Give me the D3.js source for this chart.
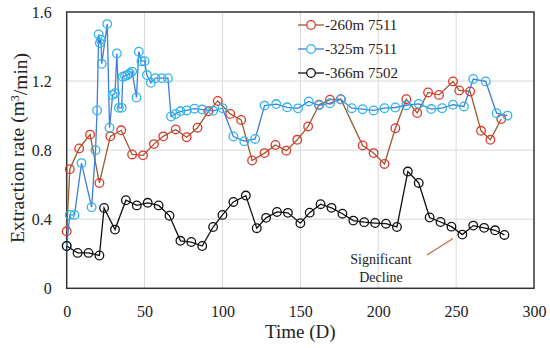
<!DOCTYPE html>
<html lang="en">

<head>
    <meta charset="UTF-8">
    <title>Extraction rate</title>
    <script src="https://d3js.org/d3.v7.min.js"></script>
    <style>
        * {
            margin: 0;
            padding: 0;
        }

        body {
            background-color: #ffffff;
            font-family: "Liberation Serif", "Times New Roman", serif;
        }
    </style>
</head>

<body>
    <div id="chart"></div>
    <script>
        // series: [day, extraction rate]
        const seriesNames = ["-260m 7511", "-325m 7511", "-366m 7502"];

        const red7511 = [
            [0, 0.33], [2, 0.69], [8, 0.81], [15, 0.89], [21, 0.61], [28, 0.88], [35, 0.915],
            [42, 0.775], [49, 0.77], [56, 0.835], [62, 0.88], [70, 0.92], [77, 0.875], [84, 0.93],
            [91, 1.025], [97, 1.085], [105, 1.01], [112, 0.975], [119, 0.74], [127, 0.783],
            [134, 0.83], [141, 0.797], [148, 0.86], [155, 0.937], [162, 1.063], [169, 1.092],
            [176, 1.095], [190, 0.827], [197, 0.783], [204, 0.72], [211, 0.927], [218, 1.095],
            [225, 1.015], [232, 1.134], [239, 1.12], [248, 1.198], [252, 1.146], [259, 1.14],
            [266, 0.912], [272, 0.86], [279, 0.98]
        ];

        const blue7511 = [
            [0, 0.245], [2, 0.425], [5, 0.425], [9.5, 0.725], [16, 0.47], [18.5, 0.8],
            [19.5, 1.03], [20.5, 1.47], [21.3, 1.42], [22, 1.44], [22.5, 1.3], [26, 1.53],
            [27.5, 0.93], [29.5, 1.12], [31, 1.13], [32.2, 1.36], [33.5, 1.045], [35.3, 1.045],
            [36, 1.225], [37.5, 1.23], [39, 1.235], [40.5, 1.245], [42, 1.255], [44.8, 1.105],
            [46.3, 1.37], [48, 1.315], [50, 1.315], [51.5, 1.235], [54, 1.19], [57, 1.217],
            [61, 1.217], [65, 1.217], [67, 0.995], [70, 1.01], [73, 1.025], [77, 1.03],
            [82, 1.04], [87, 1.035], [94, 1.028], [100, 1.043], [107, 0.879], [114, 0.852],
            [121, 0.865], [127, 1.058], [134.5, 1.067], [141.5, 1.048], [148.5, 1.042],
            [155.4, 1.082], [162, 1.06], [169, 1.072], [176, 1.094], [183, 1.043], [190, 1.037],
            [197, 1.03], [204, 1.043], [211, 1.047], [218, 1.06], [226, 1.068], [234, 1.038],
            [241, 1.043], [248, 1.063], [255, 1.053], [261, 1.212], [269, 1.198], [276, 1.014],
            [283, 1.0]
        ];

        const black7502 = [
            [0, 0.245], [7, 0.205], [14, 0.205], [21, 0.19], [24, 0.465], [31, 0.34], [38, 0.51],
            [45, 0.48], [52, 0.495], [59, 0.48], [66, 0.42], [73, 0.275], [80, 0.268], [87, 0.245],
            [94, 0.355], [100, 0.425], [107, 0.5], [115, 0.537], [122, 0.348], [128, 0.408],
            [135, 0.442], [142, 0.437], [150, 0.377], [156, 0.438], [163, 0.487], [170, 0.466],
            [177, 0.432], [184, 0.392], [191, 0.383], [198, 0.378], [205, 0.374], [212, 0.355],
            [219, 0.676], [226, 0.61], [233, 0.41], [240, 0.384], [247, 0.357], [254, 0.311],
            [261, 0.363], [268, 0.35], [275, 0.336], [281, 0.309]
        ];

        const xTicks = [0, 50, 100, 150, 200, 250, 300];
        const yTicks = [0, 0.4, 0.8, 1.2, 1.6];

        const W = 550, H = 348;
        const plotLeft = 66.7, plotRight = 534, plotTop = 12, plotBottom = 288.3;

        const svg = d3.select("#chart")
            .append("svg")
            .attr("width", W)
            .attr("height", H);

        const x = d3.scaleLinear().domain([0, 300]).range([plotLeft, plotRight]);
        const y = d3.scaleLinear().domain([0, 1.6]).range([plotBottom, plotTop]);

        // grid
        svg.append("g")
            .selectAll("line")
            .data(xTicks.slice(1, -1))
            .join("line")
            .attr("x1", d => x(d)).attr("x2", d => x(d))
            .attr("y1", plotTop).attr("y2", plotBottom)
            .attr("stroke", "#d9d9d9");

        svg.append("g")
            .selectAll("line")
            .data(yTicks.slice(1, -1))
            .join("line")
            .attr("x1", plotLeft).attr("x2", plotRight)
            .attr("y1", d => y(d)).attr("y2", d => y(d))
            .attr("stroke", "#d9d9d9");

        // axes (only labels, frame is drawn separately)
        const xAxis = svg.append("g")
            .attr("transform", `translate(0,${plotBottom})`)
            .call(d3.axisBottom(x).tickValues(xTicks).tickSize(0).tickPadding(17).tickFormat(d3.format("d")));

        const yAxis = svg.append("g")
            .attr("transform", `translate(${plotLeft},0)`)
            .call(d3.axisLeft(y).tickValues(yTicks).tickSize(0).tickPadding(15).tickFormat(d => d === 0 ? "0" : d3.format(".1f")(d)));

        [xAxis, yAxis].forEach(a => {
            a.select(".domain").remove();
            a.selectAll("text")
                .style("font-family", "'Liberation Serif', serif")
                .style("font-size", "16px")
                .style("fill", "#222");
        });

        // frame
        svg.append("rect")
            .attr("x", plotLeft).attr("y", plotTop)
            .attr("width", plotRight - plotLeft).attr("height", plotBottom - plotTop)
            .attr("fill", "none")
            .attr("stroke", "#333")
            .attr("stroke-width", 1.5);

        // series
        const series = [
            { name: seriesNames[0], data: red7511, line: "#9a5a2c", marker: "#e2352c" },
            { name: seriesNames[1], data: blue7511, line: "#3d7fd9", marker: "#2cb4ee" },
            { name: seriesNames[2], data: black7502, line: "#111", marker: "#111" }
        ];

        const line = d3.line().x(d => x(d[0])).y(d => y(d[1]));

        series.forEach(s => {
            const g = svg.append("g");
            g.append("path")
                .datum(s.data)
                .attr("d", line)
                .attr("fill", "none")
                .attr("stroke", s.line)
                .attr("stroke-width", 1.3);

            g.selectAll("circle")
                .data(s.data)
                .join("circle")
                .attr("cx", d => x(d[0]))
                .attr("cy", d => y(d[1]))
                .attr("r", 4.3)
                .attr("fill", "none")
                .attr("stroke", s.marker)
                .attr("stroke-width", 1.3);
        });

        // legend
        const legend = svg.append("g");
        series.forEach((s, i) => {
            const ly = 25 + i * 24;
            legend.append("line")
                .attr("x1", 298).attr("x2", 324)
                .attr("y1", ly).attr("y2", ly)
                .attr("stroke", s.line)
                .attr("stroke-width", 1.3);
            legend.append("circle")
                .attr("cx", 311).attr("cy", ly).attr("r", 4.3)
                .attr("fill", "#fff")
                .attr("stroke", s.marker)
                .attr("stroke-width", 1.3);
            legend.append("text")
                .attr("x", 325).attr("y", ly)
                .attr("dy", "0.35em")
                .text(s.name)
                .style("font-size", "15px")
                .style("fill", "#222");
        });

        // annotation
        svg.append("line")
            .attr("x1", 427).attr("y1", 255)
            .attr("x2", 453).attr("y2", 238.5)
            .attr("stroke", "#c07048")
            .attr("stroke-width", 1.3);

        const note = svg.append("text")
            .attr("text-anchor", "middle")
            .style("font-size", "14px")
            .style("fill", "#222");
        note.append("tspan").attr("x", 381).attr("y", 264).text("Significant");
        note.append("tspan").attr("x", 381).attr("y", 282).text("Decline");

        // axis titles
        svg.append("text")
            .attr("x", (plotLeft + plotRight) / 2).attr("y", 338)
            .attr("text-anchor", "middle")
            .style("font-size", "19px")
            .style("fill", "#222")
            .text("Time (D)");

        const yTitle = svg.append("text")
            .attr("transform", `translate(24,${148}) rotate(-90)`)
            .attr("text-anchor", "middle")
            .style("font-size", "19.5px")
            .style("fill", "#222");
        yTitle.append("tspan").text("Extraction rate (m");
        yTitle.append("tspan").attr("dy", "-0.4em").style("font-size", "12px").text("3");
        yTitle.append("tspan").attr("dy", "0.4em").text("/min)");
    </script>
</body>

</html>
